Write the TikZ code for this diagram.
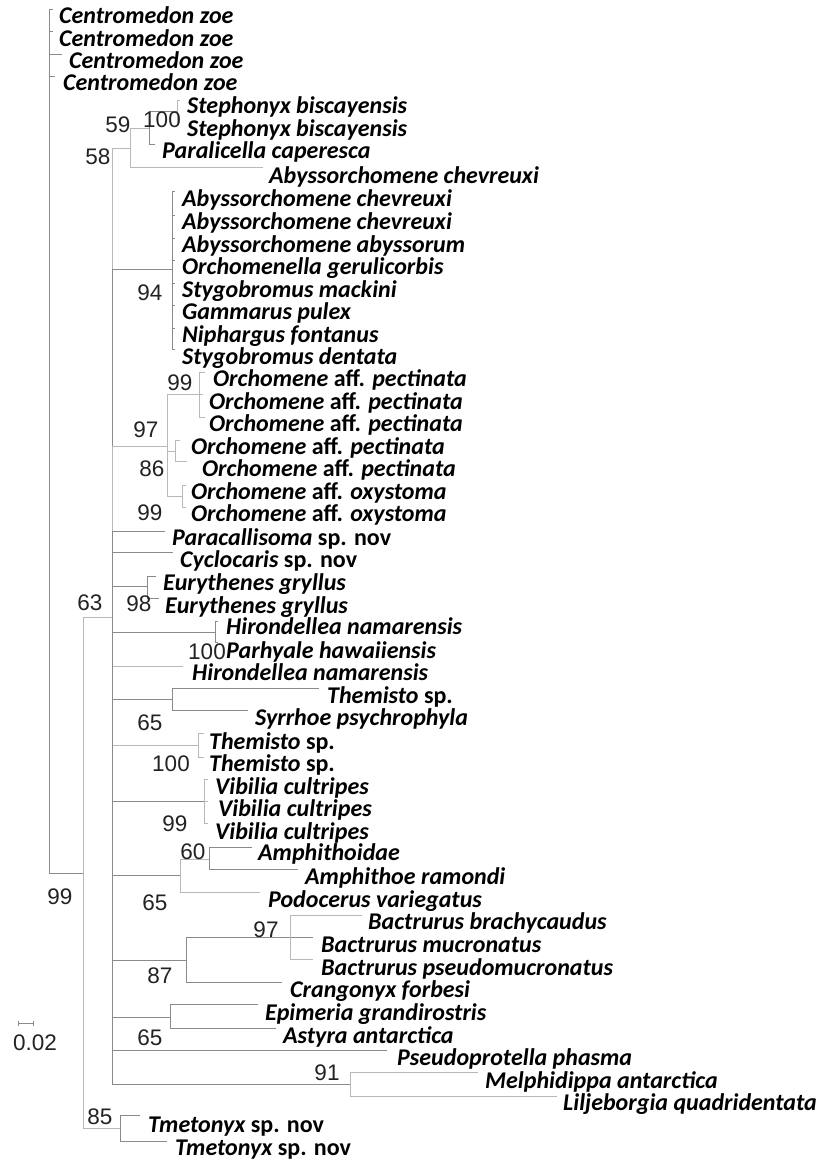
\documentclass[tikz,border=0pt]{standalone}
\usepackage{fontspec}
\newfontfamily\taxfam{Carlito}
\newfontfamily\numfam{Liberation Sans}
\newcommand\taxfont{\taxfam\bfseries\itshape\fontsize{24pt}{24pt}\selectfont}
\newcommand\bootfont{\numfam\fontsize{22.5pt}{22.5pt}\selectfont}
\newcommand\taxup[1]{{\upshape #1}}
\definecolor{brmid}{HTML}{8A8A8A}
\definecolor{brlight}{HTML}{B8B8B8}
\definecolor{numcol}{HTML}{222222}
\tikzset{
  br/.style={draw=brmid, line width=1pt},
  brl/.style={draw=brlight, line width=1pt},
  taxon/.style={anchor=west, inner sep=0pt, text height=14pt, text depth=0pt, font=\taxfont},
  boot/.style={anchor=center, inner sep=0pt, text height=16pt, text depth=0pt, font=\bootfont, text=numcol}
}
\begin{document}
\begin{tikzpicture}[x=1pt,y=-1pt]
\useasboundingbox (0,0) rectangle (818,1161);
% ---------- coordinates ----------
\coordinate (root) at (49,440);
\coordinate (cz1) at (53,10);
\coordinate (cz2) at (53,32);
\coordinate (cz3) at (62,55);
\coordinate (cz4) at (55,77);
\coordinate (nA) at (83,873);
\coordinate (nB) at (112,617);
\coordinate (nT) at (120,1128);
\coordinate (tm1) at (140,1115);
\coordinate (tm2) at (167,1141);
\coordinate (n59) at (130,149);
\coordinate (n100a) at (149,129);
\coordinate (nSt) at (177,112);
\coordinate (st1) at (180,101);
\coordinate (st2) at (180,123);
\coordinate (pc) at (155,145);
\coordinate (ab0) at (263,168);
\coordinate (n94) at (172,269);
\coordinate (g1) at (175,192);
\coordinate (g2) at (175,215);
\coordinate (g3) at (175,238);
\coordinate (g4) at (175,260);
\coordinate (g5) at (175,283);
\coordinate (g6) at (175,305);
\coordinate (g7) at (175,328);
\coordinate (g8) at (175,349);
\coordinate (n97) at (167,446);
\coordinate (n99a) at (199,394);
\coordinate (o1) at (205,372);
\coordinate (o2) at (203,394);
\coordinate (o3) at (205,417);
\coordinate (n86) at (175,451);
\coordinate (o4) at (180,440);
\coordinate (o5) at (187,461);
\coordinate (n99b) at (182,496);
\coordinate (o6) at (186,485);
\coordinate (o7) at (186,507);
\coordinate (pa) at (165,531);
\coordinate (cy) at (173,552);
\coordinate (nEu) at (147,586);
\coordinate (eu1) at (156,576);
\coordinate (eu2) at (159,598);
\coordinate (nHi) at (215,632);
\coordinate (hi1) at (218,621);
\coordinate (ph) at (218,642);
\coordinate (hi2) at (183,666);
\coordinate (nTS) at (172,699);
\coordinate (th0) at (319,688);
\coordinate (sy) at (248,710);
\coordinate (nTh) at (198,745);
\coordinate (th1) at (204,733);
\coordinate (th2) at (204,757);
\coordinate (nVi) at (204,801);
\coordinate (vi1) at (208,779);
\coordinate (vi2) at (208,801);
\coordinate (vi3) at (208,823);
\coordinate (nAm) at (180,875);
\coordinate (n60) at (209,859);
\coordinate (am1) at (252,847);
\coordinate (am2) at (298,869);
\coordinate (po) at (260,892);
\coordinate (nBa) at (186,960);
\coordinate (n97c) at (290,937);
\coordinate (ba1) at (362,915);
\coordinate (ba2) at (313,937);
\coordinate (ba3) at (313,959);
\coordinate (cr) at (282,982);
\coordinate (nEp) at (170,1017);
\coordinate (ep) at (258,1004);
\coordinate (as) at (276,1028);
\coordinate (ps) at (387,1050);
\coordinate (n91) at (350,1084);
\coordinate (me) at (478,1072);
\coordinate (li) at (557,1096);
\coordinate (sb1) at (18,1023);
\coordinate (sb2) at (33,1023);
% ---------- branches ----------
\foreach \c in {cz1,cz2,cz3,cz4,nA} \draw[br] (root) |- (\c);
\draw[brl] (nA) |- (nB);
\draw[brl] (nA) |- (nT);
\foreach \c in {tm1,tm2} \draw[br] (nT) |- (\c);
\draw[brl] (nB) |- (n59);
\draw[brl] (n59) |- (n100a);
\draw[brl] (n59) |- (ab0);
\foreach \c in {nSt,pc} \draw[br] (n100a) |- (\c);
\foreach \c in {st1,st2} \draw[brl] (nSt) |- (\c);
\draw[br] (nB) |- (n94);
\foreach \c in {g1,g2,g3,g4,g5,g6,g7,g8} \draw[br] (n94) |- (\c);
\draw[brl] (nB) |- (n97);
\foreach \c in {n99a,n86,n99b} \draw[brl] (n97) |- (\c);
\foreach \c in {o1,o2,o3} \draw[brl] (n99a) |- (\c);
\foreach \c in {o4,o5} \draw[brl] (n86) |- (\c);
\foreach \c in {o6,o7} \draw[brl] (n99b) |- (\c);
\foreach \c in {pa,cy,nEu,nHi} \draw[br] (nB) |- (\c);
\foreach \c in {eu1,eu2} \draw[br] (nEu) |- (\c);
\foreach \c in {hi1,ph} \draw[br] (nHi) |- (\c);
\draw[brl] (nB) |- (hi2);
\draw[br] (nB) |- (nTS);
\foreach \c in {th0,sy} \draw[br] (nTS) |- (\c);
\draw[brl] (nB) |- (nTh);
\foreach \c in {th1,th2} \draw[brl] (nTh) |- (\c);
\draw[br] (nB) |- (nVi);
\foreach \c in {vi1,vi2,vi3} \draw[brl] (nVi) |- (\c);
\draw[br] (nB) |- (nAm);
\foreach \c in {n60,po} \draw[brl] (nAm) |- (\c);
\foreach \c in {am1,am2} \draw[br] (n60) |- (\c);
\draw[br] (nB) |- (nBa);
\foreach \c in {n97c,cr} \draw[br] (nBa) |- (\c);
\draw[br] (n97c) -- (ba2);
\foreach \c in {ba1,ba3} \draw[brl] (n97c) |- (\c);
\draw[br] (nB) |- (nEp);
\foreach \c in {ep,as} \draw[br] (nEp) |- (\c);
\draw[br] (nB) |- (ps);
\draw[br] (nB) |- (n91);
\foreach \c in {me,li} \draw[brl] (n91) |- (\c);
% scale bar
\draw[br, line width=0.7pt] (sb1) -- (sb2);
\draw[br, line width=0.7pt] ([yshift=-2.5pt]sb1) -- ([yshift=2.5pt]sb1);
\draw[br, line width=0.7pt] ([yshift=-2.5pt]sb2) -- ([yshift=2.5pt]sb2);
\node[boot] (scl) at (35,1042) {0.02};
% ---------- taxa ----------
\node[taxon] (tcz1) at (59,17) {Centromedon zoe};
\node[taxon] (tcz2) at (59,40) {Centromedon zoe};
\node[taxon] (tcz3) at (69,62) {Centromedon zoe};
\node[taxon] (tcz4) at (63,84) {Centromedon zoe};
\node[taxon] (tst1) at (187,107) {Stephonyx biscayensis};
\node[taxon] (tst2) at (187,130) {Stephonyx biscayensis};
\node[taxon] (tpc) at (162,152) {Paralicella caperesca};
\node[taxon] (tab0) at (269,176) {Abyssorchomene chevreuxi};
\node[taxon] (tg1) at (182,199) {Abyssorchomene chevreuxi};
\node[taxon] (tg2) at (182,222) {Abyssorchomene chevreuxi};
\node[taxon] (tg3) at (182,245) {Abyssorchomene abyssorum};
\node[taxon] (tg4) at (182,267) {Orchomenella gerulicorbis};
\node[taxon] (tg5) at (182,290) {Stygobromus mackini};
\node[taxon] (tg6) at (182,312) {Gammarus pulex};
\node[taxon] (tg7) at (182,335) {Niphargus fontanus};
\node[taxon] (tg8) at (182,357) {Stygobromus dentata};
\node[taxon] (to1) at (213,379) {Orchomene \taxup{aff.} pectinata};
\node[taxon] (to2) at (209,402) {Orchomene \taxup{aff.} pectinata};
\node[taxon] (to3) at (209,424) {Orchomene \taxup{aff.} pectinata};
\node[taxon] (to4) at (191,447) {Orchomene \taxup{aff.} pectinata};
\node[taxon] (to5) at (202,469) {Orchomene \taxup{aff.} pectinata};
\node[taxon] (to6) at (191,492) {Orchomene \taxup{aff.} oxystoma};
\node[taxon] (to7) at (191,514) {Orchomene \taxup{aff.} oxystoma};
\node[taxon] (tpa) at (172,538) {Paracallisoma \taxup{sp. nov}};
\node[taxon] (tcy) at (180,560) {Cyclocaris \taxup{sp. nov}};
\node[taxon] (teu1) at (163,583) {Eurythenes gryllus};
\node[taxon] (teu2) at (165,606) {Eurythenes gryllus};
\node[taxon] (thi1) at (226,627) {Hirondellea namarensis};
\node[taxon] (tph) at (226,651) {Parhyale hawaiiensis};
\node[taxon] (thi2) at (192,673) {Hirondellea namarensis};
\node[taxon] (tth0) at (327,696) {Themisto \taxup{sp.}};
\node[taxon] (tsy) at (255,718) {Syrrhoe psychrophyla};
\node[taxon] (tth1) at (209,742) {Themisto \taxup{sp.}};
\node[taxon] (tth2) at (209,764) {Themisto \taxup{sp.}};
\node[taxon] (tvi1) at (215,787) {Vibilia cultripes};
\node[taxon] (tvi2) at (218,809) {Vibilia cultripes};
\node[taxon] (tvi3) at (215,832) {Vibilia cultripes};
\node[taxon] (tam1) at (258,853) {Amphithoidae};
\node[taxon] (tam2) at (305,877) {Amphithoe ramondi};
\node[taxon] (tpo) at (268,900) {Podocerus variegatus};
\node[taxon] (tba1) at (368,922) {Bactrurus brachycaudus};
\node[taxon] (tba2) at (321,945) {Bactrurus mucronatus};
\node[taxon] (tba3) at (321,968) {Bactrurus pseudomucronatus};
\node[taxon] (tcr) at (290,990) {Crangonyx forbesi};
\node[taxon] (tep) at (265,1013) {Epimeria grandirostris};
\node[taxon] (tas) at (283,1036) {Astyra antarctica};
\node[taxon] (tps) at (397,1058) {Pseudoprotella phasma};
\node[taxon] (tme) at (485,1081) {Melphidippa antarctica};
\node[taxon] (tli) at (563,1103) {Liljeborgia quadridentata};
\node[taxon] (ttm1) at (148,1125) {Tmetonyx \taxup{sp. nov}};
\node[taxon] (ttm2) at (175,1148) {Tmetonyx \taxup{sp. nov}};
% ---------- support values ----------
\node[boot] (b58) at (98,157) {58};
\node[boot] (b59) at (118,125) {59};
\node[boot] (b100a) at (162,120) {100};
\node[boot] (b94) at (150,292) {94};
\node[boot] (b99a) at (180,382) {99};
\node[boot] (b97) at (146,429) {97};
\node[boot] (b86) at (152,468) {86};
\node[boot] (b99b) at (150,512) {99};
\node[boot] (b63) at (90,602) {63};
\node[boot] (b98) at (139,603) {98};
\node[boot] (b100b) at (207,651) {100};
\node[boot] (b65a) at (150,722) {65};
\node[boot] (b100c) at (171,763) {100};
\node[boot] (b99c) at (175,823) {99};
\node[boot] (b60) at (193,851) {60};
\node[boot] (b65b) at (155,902) {65};
\node[boot] (b97b) at (266,929) {97};
\node[boot] (b87) at (160,975) {87};
\node[boot] (b65c) at (150,1037) {65};
\node[boot] (b91) at (327,1072) {91};
\node[boot] (b99d) at (60,896) {99};
\node[boot] (b85) at (100,1116) {85};
\end{tikzpicture}
\end{document}
